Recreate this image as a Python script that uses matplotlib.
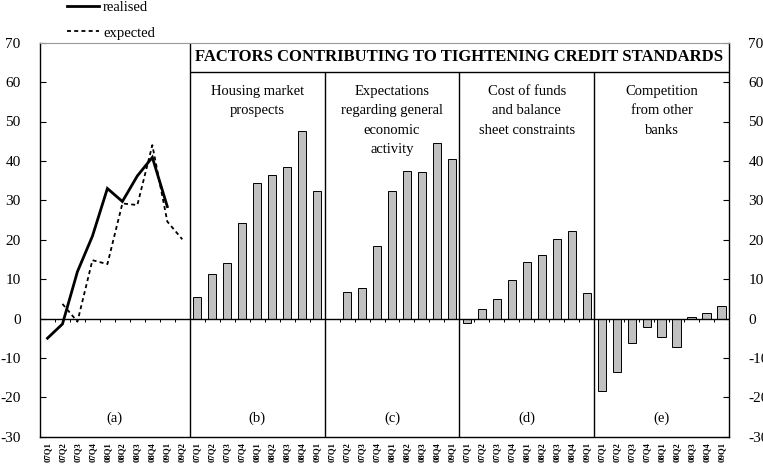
import numpy as np
import matplotlib.pyplot as plt
from matplotlib.lines import Line2D

plt.rcParams['font.family'] = ['Liberation Serif', 'DejaVu Serif']
plt.rcParams['axes.unicode_minus'] = False

# quarters
quarters_a = ['07Q1', '07Q2', '07Q3', '07Q4', '08Q1', '08Q2', '08Q3', '08Q4', '09Q1', '09Q2']
quarters_f = ['07Q1', '07Q2', '07Q3', '07Q4', '08Q1', '08Q2', '08Q3', '08Q4', '09Q1']

# panel (a): net tightening of credit standards
realised = [-5.0, -1.4, 11.9, 20.9, 33.0, 29.7, 36.2, 40.9, 28.4, np.nan]
expected = [np.nan, 3.7, -0.8, 14.8, 13.8, 29.2, 28.8, 44.0, 24.6, 20.1]

# panels (b)-(e): factors
housing = [5.4, 11.2, 14.1, 24.3, 34.3, 36.3, 38.4, 47.7, 32.4]
expectations = [np.nan, 6.6, 7.8, 18.3, 32.4, 37.5, 37.1, 44.6, 40.4]
cost_funds = [-1.2, 2.3, 5.0, 9.8, 14.3, 16.1, 20.2, 22.2, 6.4]
competition = [-18.4, -13.5, -6.2, -2.2, -4.6, -7.3, 0.3, 1.3, 3.2]

factors = [housing, expectations, cost_funds, competition]
factor_titles = ['Housing market\nprospects',
                 'Expectations\nregarding general\neconomic\nactivity',
                 'Cost of funds\nand balance\nsheet constraints',
                 'Competition\nfrom other\nbanks']
panel_tags = ['(a)', '(b)', '(c)', '(d)', '(e)']

W, H = 763, 468
fig = plt.figure(figsize=(W / 100, H / 100), dpi=100)
ax = fig.add_axes([40 / W, 1 - 436.7 / H, 689 / W, 394 / H])

# x positions: panel a has 10 slots, each factor panel 9
xa = np.arange(len(quarters_a))
ax.plot(xa, realised, color='black', lw=2.0, solid_joinstyle='miter')
ax.plot(xa, expected, color='black', lw=1.3, ls=(0, (2.2, 1.8)))

start = len(quarters_a)
edges = [-0.5, start - 0.5]
centers = [(len(quarters_a) - 1) / 2]
labels = list(quarters_a)
for vals in factors:
    xs = np.arange(start, start + len(vals))
    ax.bar(xs, vals, width=0.55, color='#c0c0c0', edgecolor='black', linewidth=0.7, zorder=3)
    centers.append(xs.mean())
    start += len(vals)
    edges.append(start - 0.5)
    labels += quarters_f

ax.set_xlim(-0.5, start - 0.5)
ax.set_ylim(-30, 70)
ax.set_yticks(range(-30, 71, 10))

# zero line with little ticks at slot boundaries
ax.axhline(0, color='black', lw=1.0, zorder=4)
bounds = np.arange(0.5, start - 1, 1.0)
ax.vlines(bounds, -0.9, 0, color='black', lw=0.7, zorder=4)

# panel separators and title box
ax.vlines(edges[1], -30, 70, color='black', lw=1.0)
ax.vlines(edges[2:-1], -30, 62.5, color='black', lw=1.0)
ax.hlines(62.5, edges[1], edges[-1], color='black', lw=1.0)
ax.text((edges[1] + edges[-1]) / 2, 66.3, 'FACTORS CONTRIBUTING TO TIGHTENING CREDIT STANDARDS',
        ha='center', va='center', fontsize=12, fontweight='bold')

for c, t in zip(centers[1:], factor_titles):
    ax.text(c, 59.2, t, ha='center', va='top', fontsize=10.5, linespacing=1.62)
for c, t in zip(centers, panel_tags):
    ax.text(c, -25.3, t, ha='center', va='center', fontsize=10.5)

ax.set_xticks(np.arange(start))
ax.set_xticklabels(labels, rotation=90, fontsize=6.3, fontweight='bold')
ax.tick_params(axis='x', length=0, pad=4)
ax.tick_params(axis='y', direction='in', length=4, width=0.8, labelsize=11,
               left=True, right=True, labelleft=True, labelright=True, pad=14)

for s in ['left', 'right', 'bottom']:
    ax.spines[s].set_linewidth(1.0)
ax.spines['top'].set_color('#999999')
ax.spines['top'].set_linewidth(0.8)

handles = [Line2D([], [], color='black', lw=2.0),
           Line2D([], [], color='black', lw=1.3, ls=(0, (2.2, 1.8)))]
fig.legend(handles, ['realised', 'expected'], loc='upper left',
           bbox_to_anchor=(66 / W, 1.0), frameon=False, fontsize=10.5,
           handlelength=2.2, handletextpad=0.3, labelspacing=0.85,
           borderpad=0.05, borderaxespad=0)

fig.savefig('out.png', dpi=100)
